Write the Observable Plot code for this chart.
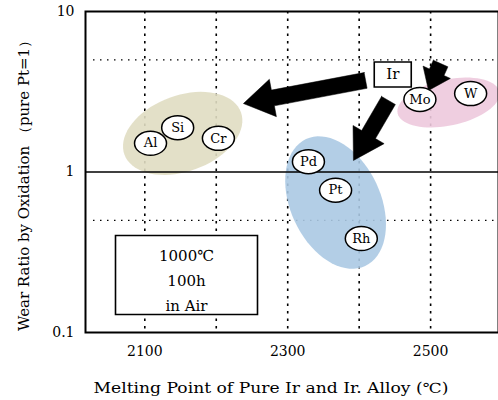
<!DOCTYPE html>
<html><head><meta charset="utf-8">
<script src="https://cdn.jsdelivr.net/npm/d3@7"></script>
<script src="https://cdn.jsdelivr.net/npm/@observablehq/plot@0.6"></script>
<style>body{margin:0;background:#fff}#chart{width:498px;height:400px}</style>
</head><body><div id="chart"></div>
<script>
// ---- data ----
const elements = ["Al", "Si", "Cr", "Mo", "W", "Pd", "Pt", "Rh"];
const meltingPoints = [2108, 2146, 2203, 2485, 2556, 2329, 2367, 2403];
const wearRatios = [1.51, 1.89, 1.62, 2.83, 3.08, 1.16, 0.77, 0.385];
const irLabel = "Ir";
const irMeltingPoint = 2447;
const irWearRatio = 4.05;
const groups = ["Al-Si-Cr", "Mo-W", "Pd-Pt-Rh"];
const groupCenterX = [2153, 2525, 2367];
const groupCenterY = [1.74, 2.71, 0.645];
const arrowFromX = [2409, 2441, 2514];
const arrowFromY = [3.72, 2.79, 4.74];
const arrowToX = [2238, 2392, 2497];
const arrowToY = [2.67, 1.18, 3.22];
const xTicks = [2100, 2300, 2500];
const xGrid = [2100, 2200, 2300, 2400, 2500];
const yTicks = [0.1, 1, 10];
const yDotted = [0.5, 5];
const yRef = [1];
const conditionText = "1000℃\n100h\nin Air";
const xTitle = "Melting Point of Pure Ir and Ir. Alloy (℃)";
const yTitle = "Wear Ratio by Oxidation （pure Pt=1）";

// ---- layout & style ----
const W = 498, H = 400, mL = 85, mT = 11, mR = 0, mB = 68;
const xDomain = [2017, 2595], yDomain = [0.1, 10];
const groupStyle = [
  {fill: "#e0ddc2", a: 62, b: 38, angle: -20},
  {fill: "#edc9dd", a: 52, b: 23, angle: -12},
  {fill: "#abc9e3", a: 70, b: 45, angle: 65}
];
const arrowStyle = [
  {shaft: 16, headW: 38, headL: 30},
  {shaft: 16, headW: 36, headL: 30},
  {shaft: 16, headW: 30, headL: 20}
];
const font = "DejaVu Serif";

const xs = Plot.scale({x: {domain: xDomain, range: [mL, W - mR]}});
const ys = Plot.scale({y: {type: "log", domain: yDomain, range: [H - mB, mT]}});

// ellipse outlines for the groups (shape built in pixel space, returned in data units)
const ellipsePts = [];
groups.forEach((g, i) => {
  const s = groupStyle[i];
  const cx = xs.apply(groupCenterX[i]), cy = ys.apply(groupCenterY[i]);
  const th = s.angle * Math.PI / 180;
  for (let k = 0; k <= 72; k++) {
    const t = k / 72 * 2 * Math.PI;
    const px = cx + s.a * Math.cos(t) * Math.cos(th) - s.b * Math.sin(t) * Math.sin(th);
    const py = cy + s.a * Math.cos(t) * Math.sin(th) + s.b * Math.sin(t) * Math.cos(th);
    ellipsePts.push({group: g, x: xs.invert(px), y: ys.invert(py)});
  }
});

// arrow polygons
const arrowPts = [];
arrowFromX.forEach((_, i) => {
  const s = arrowStyle[i];
  const tx = xs.apply(arrowFromX[i]), ty = ys.apply(arrowFromY[i]);
  const hx = xs.apply(arrowToX[i]), hy = ys.apply(arrowToY[i]);
  const L = Math.hypot(hx - tx, hy - ty);
  const ux = (hx - tx) / L, uy = (hy - ty) / L;
  const nx = -uy, ny = ux;
  const bx = hx - ux * s.headL, by = hy - uy * s.headL;
  const pts = [
    [tx + nx * s.shaft / 2, ty + ny * s.shaft / 2],
    [bx + nx * s.shaft / 2, by + ny * s.shaft / 2],
    [bx + nx * s.headW / 2, by + ny * s.headW / 2],
    [hx, hy],
    [bx - nx * s.headW / 2, by - ny * s.headW / 2],
    [bx - nx * s.shaft / 2, by - ny * s.shaft / 2],
    [tx - nx * s.shaft / 2, ty - ny * s.shaft / 2],
    [tx + nx * s.shaft / 2, ty + ny * s.shaft / 2]
  ];
  pts.forEach(([px, py]) => arrowPts.push({arrow: i, x: xs.invert(px), y: ys.invert(py)}));
});

function ellipseSymbol(rx, ry) {
  return {draw(ctx) {
    const k = 0.5523;
    ctx.moveTo(rx, 0);
    ctx.bezierCurveTo(rx, ry * k, rx * k, ry, 0, ry);
    ctx.bezierCurveTo(-rx * k, ry, -rx, ry * k, -rx, 0);
    ctx.bezierCurveTo(-rx, -ry * k, -rx * k, -ry, 0, -ry);
    ctx.bezierCurveTo(rx * k, -ry, rx, -ry * k, rx, 0);
    ctx.closePath();
  }};
}
function rectSymbol(w, h) {
  return {draw(ctx) { ctx.rect(-w / 2, -h / 2, w, h); }};
}

const labels = elements.map((e, i) => ({name: e, x: meltingPoints[i], y: wearRatios[i]}));
const ir = [{name: irLabel, x: irMeltingPoint, y: irWearRatio}];

const marks = [
  Plot.ruleX(xGrid, {x: d => d, stroke: "#000", strokeWidth: 1.6, strokeDasharray: "2.5,5"}),
  Plot.ruleY(yDotted, {y: d => d, x1: xs.invert(93), x2: xDomain[1], stroke: "#000", strokeWidth: 1.3, strokeDasharray: "1.5,5.5"}),
  ...groups.map((g, i) => Plot.line(ellipsePts.filter(d => d.group === g), {x: "x", y: "y", fill: groupStyle[i].fill, fillOpacity: 0.9, stroke: "none", curve: "linear-closed"})),
  Plot.ruleY(yRef, {y: d => d, stroke: "#000", strokeWidth: 1.5}),
  ...arrowFromX.map((_, i) => Plot.line(arrowPts.filter(d => d.arrow === i), {x: "x", y: "y", fill: "#000", stroke: "#000", strokeWidth: 0.5, curve: "linear-closed"})),
  Plot.dot(ir, {x: "x", y: "y", symbol: rectSymbol(37, 25), fill: "#fff", stroke: "#000", strokeWidth: 1.6}),
  Plot.text(ir, {x: "x", y: "y", text: "name", fontSize: 15, fill: "#000"}),
  Plot.dot(labels, {x: "x", y: "y", symbol: ellipseSymbol(16, 12), fill: "#fff", stroke: "#000", strokeWidth: 1.5}),
  Plot.text(labels, {x: "x", y: "y", text: "name", fontSize: 13, fill: "#000"}),
  Plot.dot([conditionText], {frameAnchor: "bottom-left", dx: 101, dy: -57.5, symbol: rectSymbol(142, 79), fill: "#fff", stroke: "#000", strokeWidth: 1.6}),
  Plot.text([conditionText], {frameAnchor: "bottom-left", dx: 101, dy: -54.5, textAnchor: "middle", lineAnchor: "middle", text: d => d, fontSize: 15, lineHeight: 1.65, fill: "#000"}),
  Plot.frame({stroke: "#000", strokeWidth: 2}),
  Plot.axisX(xTicks, {tickSize: 0, tickPadding: 14, fontSize: 14, label: null, tickFormat: d => String(d)}),
  Plot.axisY(yTicks, {tickSize: 0, tickPadding: 11, fontSize: 14, label: null, tickFormat: d => String(d)}),
  Plot.text([xTitle], {frameAnchor: "bottom", dx: -21, dy: 56, textAnchor: "middle", lineAnchor: "middle", text: d => d, fontSize: 14, fill: "#000"}),
  Plot.text([yTitle], {frameAnchor: "left", dx: -61, dy: 10, rotate: -90, textAnchor: "middle", lineAnchor: "middle", text: d => d, fontSize: 14, fill: "#000"})
];

const svg = Plot.plot({
  width: W, height: H,
  marginLeft: mL, marginTop: mT, marginRight: mR, marginBottom: mB,
  x: {domain: xDomain},
  y: {type: "log", domain: yDomain},
  style: {fontFamily: font, fontSize: "14px", background: "#fff", color: "#000", overflow: "visible"},
  marks
});

d3.select(svg).selectAll("text").each(function() {
  const t = this.textContent;
  if (t === xTitle) d3.select(this).attr("textLength", 355).attr("lengthAdjust", "spacingAndGlyphs");
  if (t === yTitle) d3.select(this).attr("textLength", 298).attr("lengthAdjust", "spacingAndGlyphs");
});

document.getElementById("chart").appendChild(svg);
</script>
</body></html>
